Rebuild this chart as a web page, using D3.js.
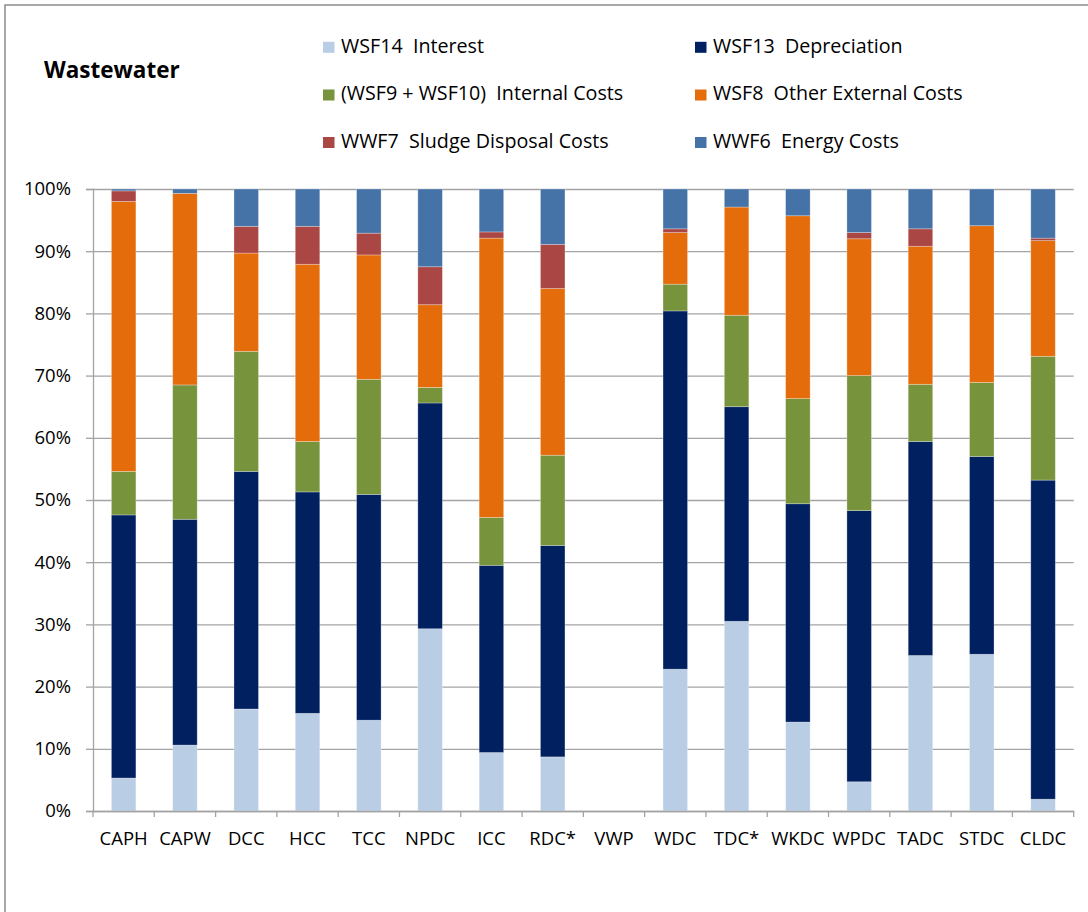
<!DOCTYPE html>
<html>
<head>
<meta charset="utf-8">
<script src="https://cdn.jsdelivr.net/npm/d3@7"></script>
<style>
  html, body { margin: 0; padding: 0; background: #fff; }
  svg { display: block; font-family: "Open Sans", Lato, sans-serif; }
</style>
</head>
<body>
<svg id="chart" width="1088" height="912"></svg>
<script>
// Wastewater cost shares per council (percent of total, stacked bottom to top)
const categories = ["CAPH", "CAPW", "DCC", "HCC", "TCC", "NPDC", "ICC", "RDC*", "VWP",
                    "WDC", "TDC*", "WKDC", "WPDC", "TADC", "STDC", "CLDC"];

const interest      = [5.3, 10.6, 16.4, 15.7, 14.6, 29.3, 9.4, 8.7, 0, 22.8, 30.5, 14.3, 4.7, 25.0, 25.2, 1.9];
const depreciation  = [42.3, 36.3, 38.2, 35.6, 36.3, 36.3, 30.1, 34.0, 0, 57.6, 34.5, 35.1, 43.6, 34.4, 31.8, 51.3];
const internalCosts = [7.0, 21.6, 19.3, 8.1, 18.5, 2.5, 7.7, 14.5, 0, 4.3, 14.7, 16.9, 21.7, 9.2, 11.9, 19.9];
const otherExternal = [43.4, 30.8, 15.8, 28.5, 20.0, 13.3, 44.9, 26.8, 0, 8.3, 17.4, 29.4, 22.0, 22.2, 25.2, 18.6];
const sludge        = [1.7, 0, 4.3, 6.1, 3.5, 6.1, 1.0, 7.1, 0, 0.6, 0, 0, 1.0, 2.8, 0, 0.4];
const energy        = [0.3, 0.7, 6.0, 6.0, 7.1, 12.5, 6.9, 8.9, 0, 6.4, 2.9, 4.3, 7.0, 6.4, 5.9, 7.9];

const seriesKeys   = ["interest", "depreciation", "internal", "otherExternal", "sludge", "energy"];
const seriesLabels = ["WSF14  Interest", "WSF13  Depreciation", "(WSF9 + WSF10)  Internal Costs",
                      "WSF8  Other External Costs", "WWF7  Sludge Disposal Costs", "WWF6  Energy Costs"];
const seriesColors = ["#b9cde5", "#002060", "#77933c", "#e46c0a", "#aa4643", "#4572a7"];
const yTickValues  = [0, 0.1, 0.2, 0.3, 0.4, 0.5, 0.6, 0.7, 0.8, 0.9, 1.0];

const seriesData = [interest, depreciation, internalCosts, otherExternal, sludge, energy];
const rows = categories.map((c, i) => {
  const r = { category: c };
  seriesKeys.forEach((k, s) => { r[k] = seriesData[s][i]; });
  return r;
});

const svg = d3.select("#chart");
const fontFamily = "'Open Sans', Lato, sans-serif";

// outer chart frame
svg.append("rect")
  .attr("x", 5).attr("y", 5)
  .attr("width", 1100).attr("height", 940)
  .attr("fill", "none")
  .attr("stroke", "#8c8c8c")
  .attr("stroke-width", 1.5);

const plot = { left: 93, right: 1073.7, top: 189, bottom: 811 };

const x = d3.scaleBand()
  .domain(categories)
  .range([plot.left, plot.right])
  .paddingInner(0.6)
  .paddingOuter(0.3);

const y = d3.scaleLinear().domain([0, 1]).range([plot.bottom, plot.top]);

const gridColor = "#a3a3a3";

// horizontal gridlines
const grid = svg.append("g")
  .attr("transform", `translate(${plot.left},0)`)
  .call(d3.axisLeft(y).tickValues(yTickValues).tickSize(-(plot.right - plot.left)).tickFormat(""));
grid.select(".domain").remove();
grid.selectAll("line").attr("stroke", gridColor).attr("stroke-width", 1.3);

// y axis
const yAxis = svg.append("g")
  .attr("transform", `translate(${plot.left},0)`)
  .call(d3.axisLeft(y).tickValues(yTickValues).tickSize(7).tickPadding(15).tickFormat(d3.format(".0%")));
yAxis.select(".domain").attr("stroke", gridColor).attr("stroke-width", 1.3);
yAxis.selectAll(".tick line").attr("stroke", gridColor).attr("stroke-width", 1.3);
yAxis.selectAll(".tick text")
  .attr("fill", "#000")
  .style("font-size", "18.5px")
  .style("font-family", fontFamily);

// stacked bars (100% stacked)
const stack = d3.stack().keys(seriesKeys).offset(d3.stackOffsetExpand);
const stacked = stack(rows);

svg.append("g").selectAll("g")
  .data(stacked)
  .join("g")
  .attr("fill", (d, i) => seriesColors[i])
  .selectAll("rect")
  .data(d => d.filter(p => p[1] - p[0] > 0))
  .join("rect")
  .attr("x", d => x(d.data.category))
  .attr("width", x.bandwidth())
  .attr("y", d => y(d[1]))
  .attr("height", d => y(d[0]) - y(d[1]))
  .attr("stroke", "rgba(255,255,255,0.35)")
  .attr("stroke-width", 0.8);

// x axis
const xAxis = svg.append("g")
  .attr("transform", `translate(0,${plot.bottom})`)
  .call(d3.axisBottom(x).tickSize(0).tickPadding(21));
xAxis.select(".domain").attr("stroke", gridColor).attr("stroke-width", 1.3);
xAxis.selectAll(".tick text")
  .attr("fill", "#000")
  .style("font-size", "18.5px")
  .style("font-family", fontFamily);

// category boundary ticks
const step = x.step();
const boundaries = d3.range(categories.length + 1).map(i => plot.left + i * step);
svg.append("g").selectAll("line")
  .data(boundaries)
  .join("line")
  .attr("x1", d => d).attr("x2", d => d)
  .attr("y1", plot.bottom).attr("y2", plot.bottom + 6)
  .attr("stroke", gridColor).attr("stroke-width", 1.3);

// title
svg.append("text")
  .attr("x", 44).attr("y", 77.7)
  .attr("font-weight", "bold")
  .style("font-size", "22.5px")
  .style("font-family", fontFamily)
  .text("Wastewater");

// legend: two columns, three rows
const legendCols = [323, 695];
const legendRows = [47.3, 95, 142.5];
const legend = svg.append("g").selectAll("g")
  .data(seriesLabels)
  .join("g")
  .attr("transform", (d, i) => `translate(${legendCols[i % 2]},${legendRows[Math.floor(i / 2)]})`);
legend.append("rect")
  .attr("x", 0).attr("y", -5.5)
  .attr("width", 11.5).attr("height", 11)
  .attr("fill", (d, i) => seriesColors[i]);
legend.append("text")
  .attr("x", 18).attr("y", 5.4)
  .style("font-size", "19.7px")
  .style("font-family", fontFamily)
  .style("white-space", "pre")
  .attr("xml:space", "preserve")
  .text(d => d);
</script>
</body>
</html>
